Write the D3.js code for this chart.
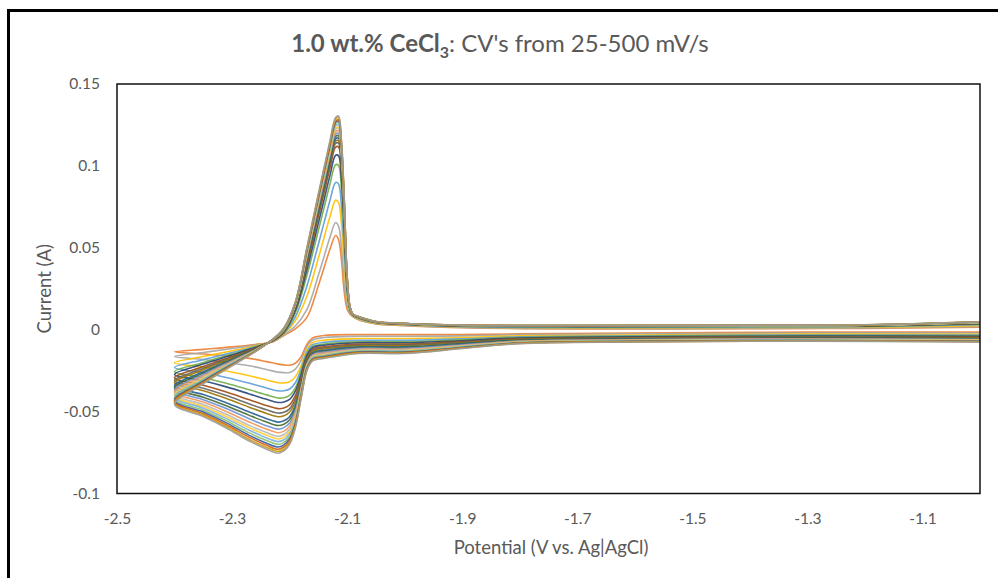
<!DOCTYPE html>
<html>
<head>
<meta charset="utf-8">
<script src="https://cdn.jsdelivr.net/npm/d3@7"></script>
<style>
  body { margin: 0; background: #fff; }
  text { font-family: Lato, "Open Sans", sans-serif; fill: #595959; }
</style>
</head>
<body>
<div id="container"></div>
<script>
/* CONSTANTS AND GLOBALS */
const width = 998,
  height = 578,
  margin = { top: 84, bottom: 84.5, left: 117, right: 18 };

// potentials (V) of the cathodic sweep, -1.0 -> -2.4
const cathodicE = [-1.0, -1.3, -1.6, -1.8, -1.9, -2.0, -2.08, -2.14, -2.16, -2.17,
  -2.18, -2.19, -2.20, -2.21, -2.22, -2.24, -2.27, -2.31, -2.35, -2.40];

// potentials (V) of the return sweep, -2.4 -> -1.0 (vertex point belongs to the cathodic sweep)
const anodicE = [-2.35, -2.30, -2.26, -2.23, -2.21, -2.19, -2.17, -2.15, -2.14, -2.13,
  -2.12, -2.115, -2.11, -2.105, -2.10, -2.095, -2.09, -2.08, -2.05, -2.0,
  -1.9, -1.7, -1.4, -1.2, -1.0];

// current (mA), one row per scan, lowest scan rate first
const cathodicI = [
  [-1.5, -1.5, -2, -2.5, -3, -3, -3, -3.5, -5, -9, -16.5, -20.5, -21.7, -21.5, -21, -19.5, -17.5, -16, -14.8, -13.5],
  [-2.0, -2.0, -2.5, -3.0, -3.8, -4.0, -4.0, -4.8, -6.3, -10.4, -18.8, -24.1, -26.1, -26.2, -25.9, -24.3, -22.0, -20.0, -18.2, -16.4],
  [-2.8, -2.7, -3.2, -3.8, -4.8, -5.4, -5.4, -6.4, -7.9, -12.4, -21.9, -28.8, -31.8, -32.5, -32.4, -30.7, -28.1, -25.2, -22.8, -20.2],
  [-3.3, -3.2, -3.7, -4.3, -5.6, -6.5, -6.5, -7.7, -9.2, -13.8, -24.2, -32.4, -36.2, -37.3, -37.3, -35.6, -32.7, -29.2, -26.3, -23.1],
  [-3.8, -3.6, -4.1, -4.8, -6.2, -7.4, -7.4, -8.8, -10.3, -15.1, -26.2, -35.5, -40.1, -41.5, -41.7, -39.8, -36.7, -32.7, -29.3, -25.7],
  [-4.1, -3.9, -4.4, -5.1, -6.7, -8.0, -8.0, -9.5, -11.0, -15.9, -27.5, -37.5, -42.5, -44.1, -44.4, -42.5, -39.2, -34.9, -31.2, -27.3],
  [-4.5, -4.3, -4.8, -5.5, -7.3, -8.8, -8.8, -10.5, -12.0, -17.0, -29.3, -40.3, -45.9, -47.8, -48.2, -46.3, -42.8, -38.0, -33.9, -29.5],
  [-4.8, -4.5, -5.0, -5.8, -7.7, -9.3, -9.3, -11.2, -12.7, -17.8, -30.5, -42.2, -48.3, -50.4, -50.9, -48.9, -45.3, -40.2, -35.8, -31.1],
  [-5.0, -4.8, -5.3, -6.0, -8.0, -9.8, -9.8, -11.8, -13.3, -18.4, -31.6, -43.8, -50.2, -52.5, -53.1, -51.1, -47.3, -42.0, -37.3, -32.4],
  [-5.4, -5.1, -5.6, -6.4, -8.5, -10.5, -10.5, -12.6, -14.1, -19.4, -33.1, -46.2, -53.1, -55.6, -56.4, -54.3, -50.3, -44.6, -39.6, -34.3],
  [-5.6, -5.3, -5.8, -6.6, -8.9, -10.9, -10.9, -13.2, -14.7, -20.0, -34.1, -47.8, -55.0, -57.7, -58.5, -56.4, -52.3, -46.4, -41.2, -35.6],
  [-5.9, -5.5, -6.0, -6.9, -9.2, -11.4, -11.4, -13.7, -15.2, -20.7, -35.1, -49.3, -57.0, -59.8, -60.7, -58.6, -54.4, -48.1, -42.7, -36.9],
  [-6.1, -5.7, -6.2, -7.1, -9.6, -11.9, -11.9, -14.3, -15.8, -21.3, -36.1, -50.9, -58.9, -61.9, -62.9, -60.7, -56.4, -49.9, -44.2, -38.1],
  [-6.4, -6.0, -6.5, -7.4, -9.9, -12.3, -12.3, -14.8, -16.3, -22.0, -37.2, -52.5, -60.8, -64.0, -65.1, -62.8, -58.4, -51.6, -45.7, -39.4],
  [-6.5, -6.1, -6.6, -7.5, -10.1, -12.7, -12.7, -15.3, -16.8, -22.4, -37.9, -53.7, -62.3, -65.6, -66.7, -64.4, -59.9, -53.0, -46.9, -40.4],
  [-6.7, -6.3, -6.8, -7.7, -10.4, -13.0, -13.0, -15.7, -17.2, -22.9, -38.7, -54.9, -63.7, -67.2, -68.3, -66.1, -61.4, -54.3, -48.0, -41.3],
  [-6.9, -6.5, -7.0, -7.9, -10.7, -13.4, -13.4, -16.1, -17.6, -23.4, -39.5, -56.1, -65.2, -68.8, -70.0, -67.7, -63.0, -55.6, -49.2, -42.3],
  [-7.1, -6.6, -7.1, -8.1, -10.9, -13.7, -13.7, -16.5, -18.0, -23.9, -40.2, -57.2, -66.6, -70.3, -71.6, -69.3, -64.5, -56.9, -50.3, -43.3],
  [-7.2, -6.8, -7.3, -8.2, -11.1, -14.0, -14.0, -16.9, -18.4, -24.3, -40.9, -58.2, -67.8, -71.6, -73.0, -70.6, -65.7, -58.0, -51.3, -44.1],
  [-7.4, -6.9, -7.4, -8.4, -11.3, -14.3, -14.3, -17.2, -18.7, -24.7, -41.5, -59.2, -69.0, -73.0, -74.3, -71.9, -67.0, -59.1, -52.2, -44.9],
  [-7.5, -7, -7.5, -8.5, -11.5, -14.5, -14.5, -17.5, -19, -25, -42, -60, -70, -74, -75.4, -73, -68, -60, -53, -45.5]
];

const anodicI = [
  [-12, -10.5, -9, -7.5, -3.5, 0.5, 7.5, 27, 38, 49, 57.5, 55, 43, 23, 12.5, 9.5, 8, 6, 3.5, 2.5, 1.2, 0.5, 0.6, 0.8, 1.5],
  [-13.9, -11.5, -9.4, -7.4, -3.1, 2.3, 12.2, 33.2, 44.7, 56.3, 65.4, 63.3, 51.0, 29.3, 14.8, 10.0, 8.2, 6.2, 3.7, 2.6, 1.4, 0.7, 0.8, 1.0, 1.9],
  [-16.4, -12.9, -9.9, -7.2, -2.6, 5.5, 20.3, 43.8, 56.3, 68.8, 79.1, 77.7, 64.9, 40.1, 18.7, 10.9, 8.5, 6.6, 4.0, 2.9, 1.7, 1.1, 1.3, 1.5, 2.5],
  [-18.3, -14.0, -10.4, -7.1, -2.2, 7.9, 26.6, 52.2, 65.5, 78.7, 89.9, 89.0, 75.9, 48.7, 21.7, 11.5, 8.7, 6.9, 4.2, 3.1, 1.9, 1.4, 1.6, 1.8, 3.0],
  [-20.0, -14.9, -10.7, -6.9, -1.8, 10.4, 33.0, 60.6, 74.6, 88.6, 100.7, 100.3, 86.8, 57.2, 24.8, 12.2, 8.9, 7.2, 4.4, 3.3, 2.2, 1.8, 1.9, 2.1, 3.5],
  [-21.0, -15.4, -10.9, -6.9, -1.6, 11.7, 36.4, 65.1, 79.5, 93.9, 106.5, 106.3, 92.6, 61.8, 26.4, 12.6, 9.0, 7.4, 4.5, 3.4, 2.3, 1.9, 2.1, 2.3, 3.7],
  [-22.5, -16.3, -11.3, -6.8, -1.3, 12.9, 39.4, 69.0, 83.8, 98.5, 111.5, 111.6, 97.8, 65.8, 27.9, 12.9, 9.1, 7.5, 4.6, 3.5, 2.4, 2.1, 2.3, 2.5, 4.0],
  [-23.6, -16.8, -11.5, -6.7, -1.0, 13.4, 40.7, 70.7, 85.6, 100.5, 113.7, 113.9, 99.9, 67.5, 28.5, 13.0, 9.2, 7.6, 4.7, 3.5, 2.4, 2.1, 2.3, 2.5, 4.1],
  [-24.4, -17.3, -11.7, -6.6, -0.8, 13.7, 41.5, 71.8, 86.8, 101.8, 115.1, 115.4, 101.4, 68.6, 28.9, 13.1, 9.2, 7.6, 4.7, 3.5, 2.5, 2.2, 2.4, 2.6, 4.1],
  [-25.7, -18.0, -11.9, -6.5, -0.6, 14.0, 42.4, 72.9, 88.0, 103.1, 116.5, 116.9, 102.9, 69.7, 29.3, 13.2, 9.2, 7.6, 4.7, 3.6, 2.5, 2.2, 2.4, 2.6, 4.2],
  [-26.5, -18.4, -12.1, -6.5, -0.4, 14.4, 43.2, 74.0, 89.2, 104.4, 118.0, 118.4, 104.3, 70.9, 29.7, 13.3, 9.3, 7.7, 4.8, 3.6, 2.5, 2.3, 2.4, 2.6, 4.3],
  [-27.3, -18.9, -12.3, -6.4, -0.2, 14.7, 44.1, 75.2, 90.5, 105.8, 119.4, 119.9, 105.8, 72.0, 30.1, 13.4, 9.3, 7.7, 4.8, 3.6, 2.6, 2.3, 2.5, 2.7, 4.3],
  [-28.2, -19.4, -12.5, -6.3, 0.0, 15.0, 44.9, 76.3, 91.7, 107.1, 120.9, 121.4, 107.2, 73.2, 30.5, 13.5, 9.3, 7.8, 4.8, 3.6, 2.6, 2.3, 2.5, 2.7, 4.4],
  [-29.0, -19.8, -12.6, -6.3, 0.1, 15.4, 45.8, 77.4, 92.9, 108.4, 122.3, 123.0, 108.7, 74.3, 31.0, 13.6, 9.4, 7.8, 4.9, 3.7, 2.6, 2.4, 2.6, 2.8, 4.5],
  [-29.6, -20.2, -12.8, -6.2, 0.3, 15.5, 46.2, 78.0, 93.5, 109.1, 123.0, 123.7, 109.4, 74.9, 31.2, 13.6, 9.4, 7.8, 4.9, 3.7, 2.7, 2.4, 2.6, 2.8, 4.5],
  [-30.3, -20.5, -12.9, -6.2, 0.4, 15.8, 47.0, 79.1, 94.7, 110.4, 124.5, 125.2, 110.9, 76.0, 31.6, 13.7, 9.4, 7.9, 4.9, 3.7, 2.7, 2.5, 2.6, 2.8, 4.6],
  [-30.9, -20.9, -13.1, -6.2, 0.6, 16.2, 47.9, 80.2, 96.0, 111.7, 125.9, 126.7, 112.4, 77.2, 32.0, 13.8, 9.4, 7.9, 4.9, 3.7, 2.7, 2.5, 2.7, 2.9, 4.6],
  [-31.5, -21.2, -13.2, -6.1, 0.7, 16.3, 48.3, 80.8, 96.6, 112.4, 126.6, 127.5, 113.1, 77.7, 32.2, 13.8, 9.4, 7.9, 4.9, 3.8, 2.7, 2.5, 2.7, 2.9, 4.7],
  [-32.1, -21.5, -13.3, -6.1, 0.8, 16.5, 48.7, 81.3, 97.2, 113.0, 127.3, 128.2, 113.8, 78.3, 32.4, 13.9, 9.5, 7.9, 5.0, 3.8, 2.8, 2.5, 2.7, 2.9, 4.7],
  [-32.6, -21.8, -13.4, -6.0, 0.9, 16.8, 49.6, 82.4, 98.4, 114.3, 128.8, 129.7, 115.3, 79.4, 32.8, 14.0, 9.5, 8.0, 5.0, 3.8, 2.8, 2.6, 2.8, 3.0, 4.8],
  [-33, -22, -13.5, -6.0, 1, 17, 50, 83, 99, 115, 129.5, 130.5, 116, 80, 33, 14, 9.5, 8, 5, 3.8, 2.8, 2.6, 2.8, 3.0, 4.8]
];

// Excel series colours (series 2 onward)
const colors = ["#ED7D31", "#A5A5A5", "#FFC000", "#5B9BD5", "#70AD47", "#264478", "#9E480E",
  "#636363", "#997300", "#255E91", "#43682B", "#698ED0", "#F1975A", "#B7B7B7", "#FFCD33",
  "#7CAFDD", "#8CC168", "#335AA1", "#D26012", "#CC9A00", "#9A9A9A"];

const xTicks = [-2.5, -2.3, -2.1, -1.9, -1.7, -1.5, -1.3, -1.1];
const xLabels = ["-2.5", "-2.3", "-2.1", "-1.9", "-1.7", "-1.5", "-1.3", "-1.1"];
const yTicks = [0.15, 0.1, 0.05, 0, -0.05, -0.1];
const yLabels = ["0.15", "0.1", "0.05", "0", "-0.05", "-0.1"];

/* SCALES */
const xScale = d3.scaleLinear()
  .domain([-2.5, -1.0])
  .range([margin.left, width - margin.right]);

const yScale = d3.scaleLinear()
  .domain([-0.1, 0.15])
  .range([height - margin.bottom, margin.top]);

/* SVG */
const svg = d3.select("#container")
  .append("svg")
  .attr("width", width)
  .attr("height", height);

// outer chart frame (runs off the right and bottom of the picture)
svg.append("rect")
  .attr("x", 8.5)
  .attr("y", 10.5)
  .attr("width", 1100)
  .attr("height", 700)
  .attr("fill", "#fff")
  .attr("stroke", "#000")
  .attr("stroke-width", 3);

/* AXES */
const xAxis = d3.axisBottom(xScale)
  .tickValues(xTicks)
  .tickSize(0)
  .tickPadding(19)
  .tickFormat((d, i) => xLabels[i]);

const yAxis = d3.axisLeft(yScale)
  .tickValues(yTicks)
  .tickSize(0)
  .tickPadding(17)
  .tickFormat((d, i) => yLabels[i]);

const xAxisGroup = svg.append("g")
  .attr("class", "xAxis")
  .attr("transform", `translate(0, ${height - margin.bottom})`)
  .call(xAxis);

const yAxisGroup = svg.append("g")
  .attr("class", "yAxis")
  .attr("transform", `translate(${margin.left}, 0)`)
  .call(yAxis);

svg.selectAll(".xAxis .domain, .yAxis .domain").remove();
svg.selectAll(".xAxis text, .yAxis text")
  .attr("fill", "#595959")
  .style("font-size", "15.5px");

/* LINES */
const lineGen = d3.line()
  .x(d => xScale(d[0]))
  .y(d => yScale(d[1] / 1000))
  .curve(d3.curveCatmullRom.alpha(0.5));

const scans = cathodicI.map((row, k) =>
  cathodicE.map((e, i) => [e, row[i]])
    .concat(anodicE.map((e, i) => [e, anodicI[k][i]])));

svg.append("g")
  .selectAll("path")
  .data(scans)
  .join("path")
  .attr("d", lineGen)
  .attr("fill", "none")
  .attr("stroke", (d, k) => colors[k])
  .attr("stroke-width", 1.6)
  .attr("stroke-opacity", 0.9)
  .attr("stroke-linejoin", "round");

// plot area border
svg.append("rect")
  .attr("x", margin.left)
  .attr("y", margin.top)
  .attr("width", width - margin.left - margin.right)
  .attr("height", height - margin.top - margin.bottom)
  .attr("fill", "none")
  .attr("stroke", "#111")
  .attr("stroke-width", 1.5);

/* TITLES */
const title = svg.append("text")
  .attr("x", 500)
  .attr("y", 52)
  .attr("text-anchor", "middle")
  .style("font-size", "24px");
title.append("tspan").attr("font-weight", "bold").text("1.0 wt.% CeCl");
title.append("tspan").attr("font-weight", "bold").attr("font-size", "16px").attr("dy", 6).text("3");
title.append("tspan").attr("dy", -6).text(": CV's from 25-500 mV/s");

svg.append("text")
  .attr("x", 551)
  .attr("y", 554)
  .attr("text-anchor", "middle")
  .style("font-size", "18.5px")
  .text("Potential (V vs. Ag|AgCl)");

svg.append("text")
  .attr("transform", `translate(51, ${(margin.top + height - margin.bottom) / 2}) rotate(-90)`)
  .attr("text-anchor", "middle")
  .style("font-size", "18.5px")
  .text("Current (A)");
</script>
</body>
</html>
